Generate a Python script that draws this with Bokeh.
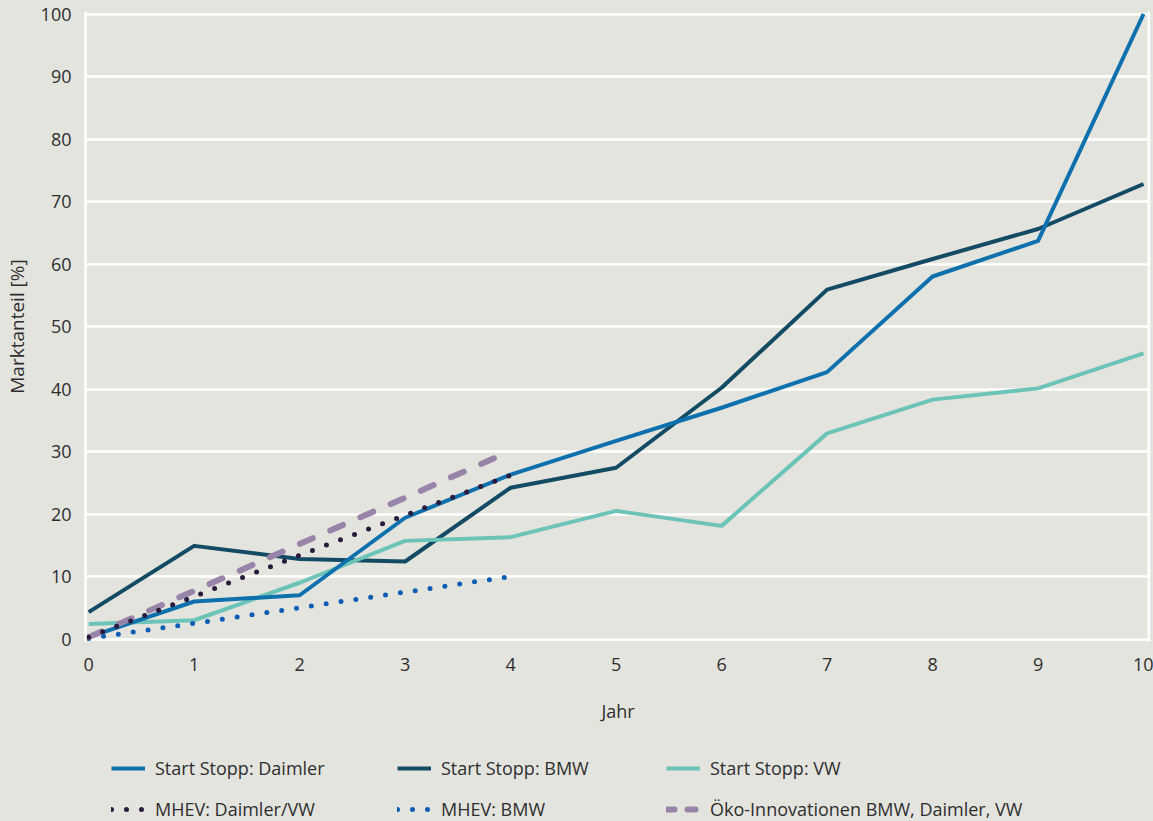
from bokeh.plotting import figure
from bokeh.layouts import column
from bokeh.models import Legend, LegendItem, Span, FixedTicker
from bokeh.embed import file_html
from bokeh.resources import INLINE

# ---- data ----
years = [0, 1, 2, 3, 4, 5, 6, 7, 8, 9, 10]
ss_daimler = [0.3, 6.0, 7.0, 19.4, 26.3, 31.7, 37.0, 42.7, 58.0, 63.7, 100.0]
ss_bmw = [4.3, 14.9, 12.8, 12.4, 24.2, 27.4, 40.2, 55.9, 60.8, 65.6, 72.8]
ss_vw = [2.4, 3.0, 9.0, 15.7, 16.3, 20.5, 18.1, 32.9, 38.3, 40.1, 45.7]

years_short = [0, 1, 2, 3, 4]
mhev_daimler_vw = [0.3, 6.8, 13.4, 19.8, 26.2]
mhev_bmw = [0.1, 2.5, 5.0, 7.5, 10.0]
oeko = [0.3, 7.7, 15.2, 22.6, 30.1]

labels = ["Start Stopp: Daimler", "Start Stopp: BMW", "Start Stopp: VW",
          "MHEV: Daimler/VW", "MHEV: BMW", "Öko-Innovationen BMW, Daimler, VW"]
y_ticks = [0, 10, 20, 30, 40, 50, 60, 70, 80, 90, 100]
x_label = "Jahr"
y_label = "Marktanteil [%]"

# ---- style ----
BG = "#e4e4df"
TXT = "#2e2e2e"
FONT = "Open Sans"
FS = "18px"
C_DAIMLER = "#0e70ad"
C_BMW = "#124b63"
C_VW = "#6cc3b8"
C_MHEV_DV = "#2a1a3e"
C_MHEV_BMW = "#0b5db3"
C_OEKO = "#9a83a8"

W = 1153
H_MAIN = 735
H_LEG = 86

p = figure(width=W, height=H_MAIN, output_backend="svg", toolbar_location=None,
           x_range=(-0.03, 10.066), y_range=(-0.4, 100.4),
           min_border_left=84, min_border_right=3, min_border_top=11, min_border_bottom=94,
           background_fill_color=BG, border_fill_color=BG)
p.outline_line_color = None

p.xgrid.grid_line_color = None
p.ygrid.grid_line_color = "white"
p.ygrid.grid_line_width = 2.5
p.yaxis.ticker = FixedTicker(ticks=y_ticks)
p.xaxis.ticker = FixedTicker(ticks=years)

for ax in (p.xaxis[0], p.yaxis[0]):
    ax.major_tick_line_color = None
    ax.minor_tick_line_color = None
    ax.major_tick_out = 0
    ax.major_tick_in = 0
    ax.major_label_text_font = FONT
    ax.major_label_text_font_size = FS
    ax.major_label_text_color = TXT
    ax.axis_label_text_font = FONT
    ax.axis_label_text_font_size = FS
    ax.axis_label_text_color = TXT
    ax.axis_label_text_font_style = "normal"

p.yaxis.axis_label_text_font_size = "19px"
p.xaxis.axis_line_color = None
p.yaxis.axis_line_color = "white"
p.yaxis.axis_line_width = 2.5
p.xaxis.axis_label = x_label
p.yaxis.axis_label = y_label
p.xaxis.major_label_standoff = 16
p.xaxis.axis_label_standoff = 25
p.yaxis.major_label_standoff = 14
p.yaxis.axis_label_standoff = 8

p.add_layout(Span(location=10.05, dimension="height", line_color="white", line_width=2.5))

# lines
p.line(years, ss_bmw, line_color=C_BMW, line_width=4, line_join="round")
p.line(years, ss_vw, line_color=C_VW, line_width=4, line_join="round")
p.line(years, ss_daimler, line_color=C_DAIMLER, line_width=4, line_join="round")
p.line(years_short, mhev_bmw, line_color=C_MHEV_BMW, line_width=5,
       line_dash="0 15", line_cap="round")
p.line(years_short, oeko, line_color=C_OEKO, line_width=6,
       line_dash="14 19", line_cap="round")
p.line(years_short, mhev_daimler_vw, line_color=C_MHEV_DV, line_width=5,
       line_dash="0 15", line_cap="round")

# ---- legend strip (separate figure so it is not clipped by the plot frame) ----
# its ranges are set so that the series lines lie outside the visible strip;
# only their legend glyphs show
q = figure(width=W, height=H_LEG, output_backend="svg", toolbar_location=None,
           x_range=(-0.03, 10.066), y_range=(-1000, -999),
           x_axis_type=None, y_axis_type=None,
           min_border_left=84, min_border_right=3, min_border_top=0, min_border_bottom=0,
           background_fill_alpha=0, border_fill_alpha=0)
q.outline_line_color = None
q.grid.visible = False

series = [(years, ss_daimler), (years, ss_bmw), (years, ss_vw),
          (years_short, mhev_daimler_vw), (years_short, mhev_bmw), (years_short, oeko)]
styles = [
    dict(line_color=C_DAIMLER, line_width=4),
    dict(line_color=C_BMW, line_width=4),
    dict(line_color=C_VW, line_width=4),
    dict(line_color=C_MHEV_DV, line_width=5, line_dash="0 15", line_cap="round"),
    dict(line_color=C_MHEV_BMW, line_width=5, line_dash="0 15", line_cap="round"),
    dict(line_color=C_OEKO, line_width=6, line_dash="8 13", line_cap="round"),
]
rs = [q.line(xs, ys, **s) for (xs, ys), s in zip(series, styles)]

cols = [(26, [0, 3]), (312, [1, 4]), (581, [2, 5])]
for xloc, idx in cols:
    leg = Legend(items=[LegendItem(label=labels[i], renderers=[rs[i]]) for i in idx],
                 location=(xloc, 0), orientation="vertical",
                 background_fill_alpha=0, border_line_color=None,
                 padding=0, margin=0, spacing=17,
                 glyph_width=34, glyph_height=20, label_height=20,
                 label_standoff=10,
                 label_text_font=FONT, label_text_font_size=FS,
                 label_text_color=TXT)
    q.add_layout(leg, "center")

layout = column(p, q, spacing=0, styles={"background-color": BG})
open("out.html", "w").write(file_html(layout, INLINE))
